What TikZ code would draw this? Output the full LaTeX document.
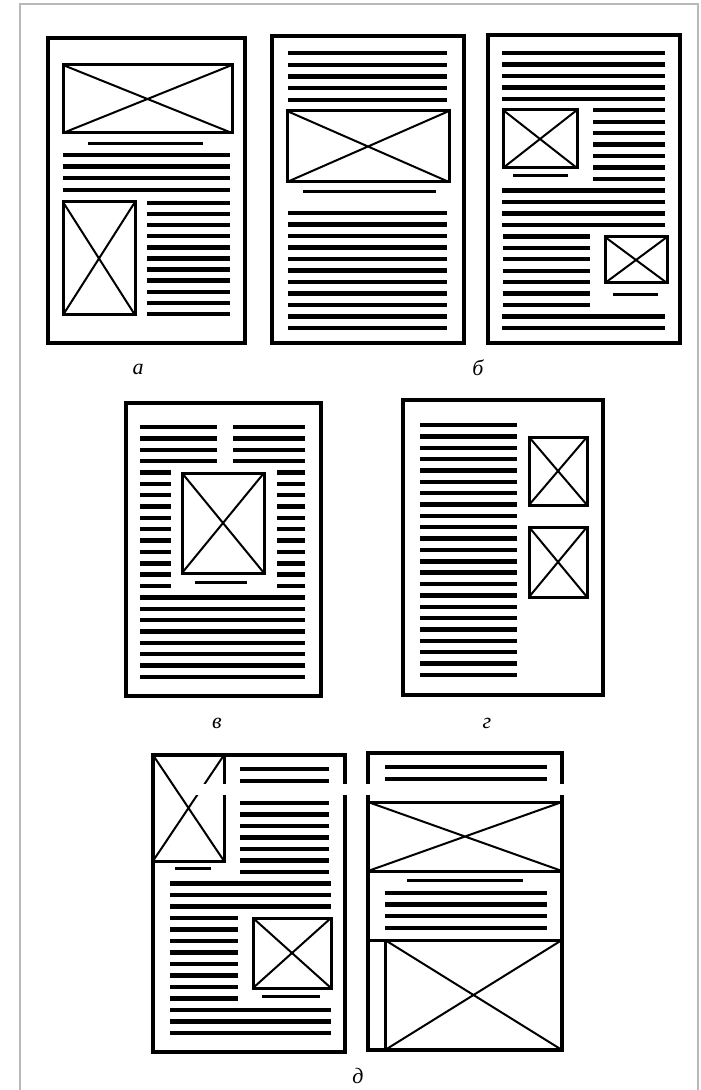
\documentclass[tikz,border=0pt]{standalone}
\usepackage{fontspec}
\setmainfont{Liberation Serif}
\usepackage{tikz}
\definecolor{frameg}{RGB}{185,185,185}
\tikzset{pg/.style={line width=1.8pt},
  txt/.style={line width=2.2pt},
  capline/.style={line width=1.5pt},
  imgbox/.style={line width=1.5pt},
  diag/.style={line width=1pt},
  lbl/.style={font=\fontsize{11}{13}\selectfont\itshape,anchor=base}}
\newcommand{\xbox}[4]{\draw[imgbox] (#1,#2) rectangle (#3,#4);
  \draw[diag] (#1,#2)--(#3,#4) (#1,#4)--(#3,#2);}

\begin{document}
\begin{tikzpicture}[x=0.5pt,y=-0.5pt]
      \useasboundingbox (0,0) rectangle (700,1090);
      \draw[frameg,line width=0.6pt] (20,1090)--(20,4)--(698,4)--(698,1090);
      % a
      \draw[pg] (48,38) rectangle (245,343);
      \xbox{63}{65}{232}{133}
      \draw[capline] (88,144)--(203,144);
      \foreach \i in {0,...,3}{\draw[txt] (63,155+\i*11.6)--(230,155+\i*11.6);}
      \xbox{63}{202}{135}{315}
      \foreach \i in {0,...,10}{\draw[txt] (147,203+\i*11.1)--(230,203+\i*11.1);}
      \node[lbl] (la) at (138,375) {а};
      % b, left page
      \draw[pg] (272,36) rectangle (464,343);
      \foreach \i in {0,...,4}{\draw[txt] (288,53+\i*11.75)--(447,53+\i*11.75);}
      \xbox{287}{111}{449}{182}
      \draw[capline] (303,192)--(436,192);
      \foreach \i in {0,...,10}{\draw[txt] (288,213+\i*11.5)--(447,213+\i*11.5);}
      % b, right page
      \def\dy{11.46}
      \draw[pg] (488,35) rectangle (680,343);
      \foreach \i in {0,...,4,12,13,14,15,23,24}{
        \draw[txt] (502,53+\i*\dy)--(665,53+\i*\dy);}
      \foreach \i in {5,...,11}{\draw[txt] (593,53+\i*\dy)--(665,53+\i*\dy);}
      \foreach \i in {16,...,22}{\draw[txt] (503,53+\i*\dy)--(590,53+\i*\dy);}
      \xbox{503}{110}{577}{168}
      \draw[capline] (513,176)--(568,176);
      \xbox{605}{237}{667}{283}
      \draw[capline] (613,295)--(658,295);
      \node[lbl] (lb) at (478,376) {б};
      % v
      \def\dy{11.36}
      \draw[pg] (126,403) rectangle (321,696);
      \foreach \i in {0,...,3}{\draw[txt] (140,427+\i*\dy)--(217,427+\i*\dy);
        \draw[txt] (233,427+\i*\dy)--(305,427+\i*\dy);}
      \foreach \i in {4,...,14}{\draw[txt] (140,427+\i*\dy)--(171,427+\i*\dy);
        \draw[txt] (277,427+\i*\dy)--(305,427+\i*\dy);}
      \foreach \i in {15,...,22}{\draw[txt] (140,427+\i*\dy)--(305,427+\i*\dy);}
      \xbox{182}{473}{264}{573}
      \draw[capline] (195,582)--(247,582);
      \node[lbl] (lv) at (217,728) {в};
      % g
      \draw[pg] (403,400) rectangle (603,695);
      \foreach \i in {0,...,22}{\draw[txt] (420,425+\i*\dy)--(517,425+\i*\dy);}
      \xbox{529}{437}{587}{505}
      \xbox{529}{527}{587}{597}
      \node[lbl] (lg) at (487,728) {г};
      % d, left page
      \def\dy{11.5}
      \draw[pg] (153,755) rectangle (345,1052);
      \xbox{153}{755}{224}{861}
      \draw[txt] (240,769)--(329,769) (240,781)--(329,781);
      \foreach \i in {0,...,6}{\draw[txt] (240,803+\i*\dy)--(329,803+\i*\dy);}
      \draw[capline] (175,868)--(211,868);
      \foreach \i in {7,8,9,18,19,20}{\draw[txt] (170,803+\i*\dy)--(331,803+\i*\dy);}
      \foreach \i in {10,...,17}{\draw[txt] (170,803+\i*\dy)--(238,803+\i*\dy);}
      \xbox{253}{918}{331}{988}
      \draw[capline] (262,996)--(320,996);
      % d, right page
      \draw[pg] (368,753) rectangle (562,1050);
      \draw[txt] (385,767)--(547,767) (385,779)--(547,779);
      \xbox{368}{802}{562}{871}
      \draw[capline] (407,880)--(523,880);
      \foreach \i in {0,...,3}{\draw[txt] (385,893+\i*11.6)--(547,893+\i*11.6);}
      \draw[imgbox] (368,940)--(385,940);
      \xbox{385}{940}{562}{1050}
      % cut across the spread
      \fill[white] (185,784) rectangle (566,795);
      \node[lbl] (ld) at (358,1083) {д};
\end{tikzpicture}
\end{document}
